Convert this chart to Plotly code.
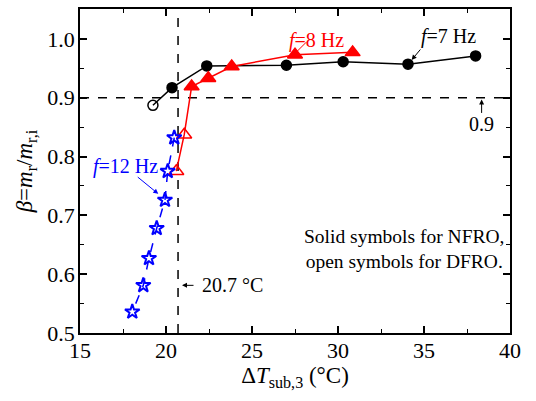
import plotly.graph_objects as go

# f = 7 Hz (first point open = DFRO)
x7 = [19.24, 20.35, 22.37, 27.0, 30.3, 34.07, 38.0]
y7 = [0.887, 0.917, 0.954, 0.955, 0.961, 0.957, 0.971]
open7 = [True, False, False, False, False, False, False]

# f = 8 Hz (first two open = DFRO)
x8 = [20.6, 21.06, 21.49, 22.46, 23.82, 27.5, 30.85]
y8 = [0.775, 0.837, 0.919, 0.933, 0.953, 0.973, 0.977]
open8 = [True, True, False, False, False, False, False]

# f = 12 Hz (all open)
x12 = [20.48, 20.1, 19.94, 19.46, 19.01, 18.68, 18.04]
y12 = [0.832, 0.775, 0.726, 0.678, 0.627, 0.581, 0.536]

x_ref = 20.7
y_ref = 0.9

xticks = [15, 20, 25, 30, 35, 40]
yticks = [0.5, 0.6, 0.7, 0.8, 0.9, 1.0]
yticklabels = ["0.5", "0.6", "0.7", "0.8", "0.9", "1.0"]

FONT = "Liberation Serif"

fig = go.Figure()

fig.add_shape(type="line", x0=x_ref, x1=x_ref, y0=0.5, y1=1.05, xref="x", yref="y",
              line=dict(color="black", width=1.5, dash="dash"), layer="below")
fig.add_shape(type="line", x0=15, x1=40, y0=y_ref, y1=y_ref, xref="x", yref="y",
              line=dict(color="black", width=1.5, dash="dash"), layer="below")

fig.add_trace(go.Scatter(
    x=x7, y=y7, mode="lines+markers",
    line=dict(color="black", width=1.5),
    marker=dict(symbol=["circle-open" if o else "circle" for o in open7],
                size=10, color="black", line=dict(color="black", width=1.5)),
    showlegend=False))

fig.add_trace(go.Scatter(
    x=x8, y=y8, mode="lines+markers",
    line=dict(color="red", width=1.5),
    marker=dict(symbol=["triangle-up-open" if o else "triangle-up" for o in open8],
                size=13, color="red", line=dict(color="red", width=1.5)),
    showlegend=False))

fig.add_trace(go.Scatter(
    x=x12, y=y12, mode="lines+markers",
    line=dict(color="blue", width=1.5, dash="dash"),
    marker=dict(symbol="star-open", size=11, color="blue", line=dict(color="blue", width=2)),
    showlegend=False))

ann = []
def arrow(x, y, ax, ay, color):
    ann.append(dict(x=x, y=y, ax=ax, ay=ay, xref="x", yref="y", text="", showarrow=True,
                    arrowhead=2, arrowsize=1, arrowwidth=1, arrowcolor=color))
def label(x, y, text, color, size=20, xanchor="center"):
    ann.append(dict(x=x, y=y, xref="x", yref="y", text=text, showarrow=False,
                    font=dict(family=FONT, size=size, color=color), xanchor=xanchor))

arrow(27.31, 0.9696, 16, -16, "red")
label(28.76, 0.9966, "<i>f</i>=8 Hz", "red")
arrow(34.28, 0.964, 10, -12, "black")
label(36.4, 1.0034, "<i>f</i>=7 Hz", "black")
arrow(19.55, 0.7365, -22, -18, "blue")
label(17.62, 0.7838, "<i>f</i>=12 Hz", "blue")
arrow(38.35, 0.897, 0, 15, "black")
label(38.35, 0.8547, "0.9", "black")
arrow(20.93, 0.581, 13, 0, "black")
label(21.95, 0.581, "20.7 °C", "black", xanchor="left")
label(33.84, 0.642, "Solid symbols for NFRO,<br>open symbols for DFRO.", "black", size=19.5)

axis_common = dict(showgrid=False, zeroline=False, showline=True, linecolor="black",
                   linewidth=1.5, mirror="ticks", ticks="inside", ticklen=7, tickwidth=1.5,
                   tickcolor="black", tickfont=dict(family=FONT, size=22, color="black"))

fig.update_layout(
    width=536, height=401, margin=dict(l=80, r=26, t=7, b=68),
    paper_bgcolor="white", plot_bgcolor="white",
    font=dict(family=FONT, color="black"),
    annotations=ann,
    xaxis=dict(range=[15, 40], tickvals=xticks, ticklabelstandoff=-3,
               minor=dict(ticks="inside", ticklen=4, tickwidth=1.2, dtick=2.5, tickcolor="black"),
               title=dict(text="Δ<i>T</i><sub>sub,3</sub> (°C)", font=dict(family=FONT, size=23), standoff=3),
               **axis_common),
    yaxis=dict(range=[0.5, 1.0507], tickvals=yticks, ticktext=yticklabels, ticklabelstandoff=-1,
               minor=dict(ticks="inside", ticklen=4, tickwidth=1.2, dtick=0.05, tickcolor="black"),
               title=dict(text="<i>β</i>=<i>m</i><sub>r</sub>/<i>m</i><sub>r,i</sub>", font=dict(family=FONT, size=23), standoff=8),
               **axis_common),
)

fig.write_html("out.html")
